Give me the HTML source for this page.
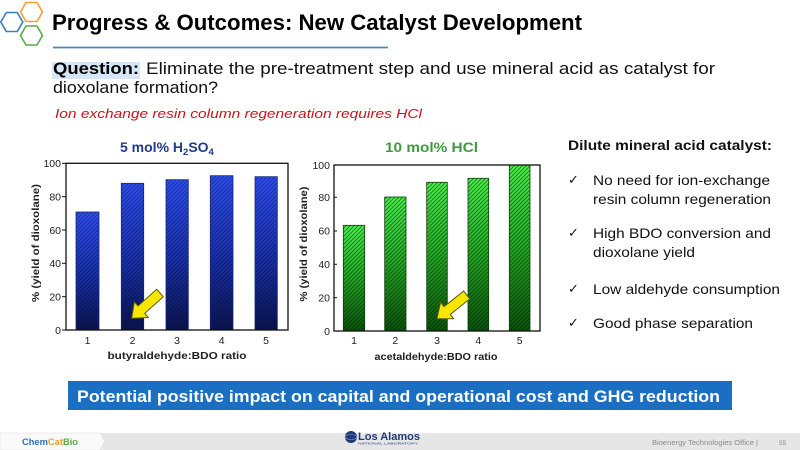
<!DOCTYPE html>
<html><head><meta charset="utf-8"><style>
html,body{margin:0;padding:0;background:#fff;width:800px;height:450px;overflow:hidden}
svg{display:block}
text{font-family:"Liberation Sans",Arial,sans-serif}
</style></head><body>
<svg width="800" height="450" viewBox="0 0 800 450" xmlns="http://www.w3.org/2000/svg">
<defs>
<linearGradient id="gb" x1="0" y1="0" x2="0" y2="1">
<stop offset="0" stop-color="#2e50ec"/><stop offset="0.5" stop-color="#1a33b0"/><stop offset="1" stop-color="#0a1550"/>
</linearGradient>
<linearGradient id="gg" x1="0" y1="0" x2="0" y2="1">
<stop offset="0" stop-color="#4ef04e"/><stop offset="0.5" stop-color="#26a826"/><stop offset="1" stop-color="#0a520c"/>
</linearGradient>
<pattern id="hb" width="4" height="4" patternUnits="userSpaceOnUse">
<path d="M-1,1 l2,-2 M0,4 l4,-4 M3,5 l2,-2" stroke="rgba(0,0,30,0.35)" stroke-width="1"/>
</pattern>
<pattern id="hg" width="4" height="4" patternUnits="userSpaceOnUse">
<path d="M-1,1 l2,-2 M0,4 l4,-4 M3,5 l2,-2" stroke="rgba(0,30,0,0.5)" stroke-width="1"/>
</pattern>
</defs>

<!-- logo hexagons -->
<g fill="none" stroke-width="1.6">
<polygon points="20.5,12 26,2.5 37,2.5 42.5,12 37,21.5 26,21.5" stroke="#f0a030"/>
<polygon points="0.8,22 6.3,12.5 17.3,12.5 22.8,22 17.3,31.5 6.3,31.5" stroke="#3a7cc0"/>
<polygon points="20.5,35.5 26,26 37,26 42.5,35.5 37,45 26,45" stroke="#5aaa48"/>
</g>

<!-- title -->
<text x="52" y="30" font-size="22" font-weight="bold" fill="#000" textLength="530" lengthAdjust="spacingAndGlyphs">Progress &amp; Outcomes: New Catalyst Development</text>
<line x1="53" y1="47.5" x2="388" y2="47.5" stroke="#4a88c0" stroke-width="1.8"/>

<!-- question -->
<rect x="52" y="62" width="88" height="17" fill="#d4e6f7"/>
<text x="53" y="74" font-size="17" font-weight="bold" fill="#000" textLength="86" lengthAdjust="spacingAndGlyphs">Question:</text>
<text x="146" y="74" font-size="17" fill="#111" textLength="569" lengthAdjust="spacingAndGlyphs">Eliminate the pre-treatment step and use mineral acid as catalyst for</text>
<text x="53" y="93" font-size="17" fill="#111" textLength="165" lengthAdjust="spacingAndGlyphs">dioxolane formation?</text>
<text x="55" y="118" font-size="13" font-style="italic" fill="#c8141e" textLength="367" lengthAdjust="spacingAndGlyphs">Ion exchange resin column regeneration requires HCl</text>

<!-- chart titles -->
<text x="120" y="152" font-size="14" font-weight="bold" fill="#1f3c88">5 mol% H<tspan font-size="9.5" dy="3">2</tspan><tspan dy="-3">SO</tspan><tspan font-size="9.5" dy="3">4</tspan></text>
<text x="385" y="152" font-size="14" font-weight="bold" fill="#3f9a3f" textLength="93" lengthAdjust="spacingAndGlyphs">10 mol% HCl</text>

<!-- LEFT CHART -->
<g>
<rect x="76" y="212" width="23" height="118" fill="url(#gb)"/>
<rect x="121.3" y="183.3" width="22.4" height="146.7" fill="url(#gb)"/>
<rect x="166" y="179.7" width="22.3" height="150.3" fill="url(#gb)"/>
<rect x="210.3" y="175.7" width="22.7" height="154.3" fill="url(#gb)"/>
<rect x="255" y="176.7" width="22.3" height="153.3" fill="url(#gb)"/>
<g fill="url(#hb)" stroke="#14257a" stroke-width="0.8">
<rect x="76" y="212" width="23" height="118"/>
<rect x="121.3" y="183.3" width="22.4" height="146.7"/>
<rect x="166" y="179.7" width="22.3" height="150.3"/>
<rect x="210.3" y="175.7" width="22.7" height="154.3"/>
<rect x="255" y="176.7" width="22.3" height="153.3"/>
</g>
<rect x="66" y="163.3" width="222" height="166.7" fill="none" stroke="#111" stroke-width="1.3"/>
<g stroke="#111" stroke-width="1">
<line x1="62" y1="163.3" x2="66" y2="163.3"/><line x1="62" y1="196.7" x2="66" y2="196.7"/>
<line x1="62" y1="230" x2="66" y2="230"/><line x1="62" y1="263.3" x2="66" y2="263.3"/>
<line x1="62" y1="296.7" x2="66" y2="296.7"/><line x1="62" y1="330" x2="66" y2="330"/>
</g>
<g font-size="10.5" fill="#222" text-anchor="end">
<text x="61" y="167">100</text><text x="61" y="200.5">80</text><text x="61" y="234">60</text>
<text x="61" y="267">40</text><text x="61" y="300.5">20</text><text x="61" y="334">0</text>
</g>
<g font-size="10.5" fill="#222" text-anchor="middle">
<text x="87.5" y="344">1</text><text x="132.5" y="344">2</text><text x="177" y="344">3</text>
<text x="221.7" y="344">4</text><text x="266" y="344">5</text>
</g>
<text x="177" y="359" font-size="10.5" font-weight="bold" fill="#222" text-anchor="middle" textLength="139" lengthAdjust="spacingAndGlyphs">butyraldehyde:BDO ratio</text>
<text transform="translate(39,243) rotate(-90)" font-size="10.5" font-weight="bold" fill="#222" text-anchor="middle" textLength="118" lengthAdjust="spacingAndGlyphs">% (yield of dioxolane)</text>
<polygon transform="translate(160,293) rotate(138.2)" points="0,-5 25,-5 25,-10.5 38,0 25,10.5 25,5 0,5" fill="#f7e600" stroke="#5a5a10" stroke-width="1"/>
</g>

<!-- RIGHT CHART -->
<g>
<rect x="343.3" y="225.3" width="21.4" height="105.7" fill="url(#gg)"/>
<rect x="384.7" y="197" width="21.3" height="134" fill="url(#gg)"/>
<rect x="426.7" y="182.3" width="20.6" height="148.7" fill="url(#gg)"/>
<rect x="468" y="178.3" width="20.7" height="152.7" fill="url(#gg)"/>
<rect x="509.3" y="165" width="20.7" height="166" fill="url(#gg)"/>
<g fill="url(#hg)" stroke="#0c3a0c" stroke-width="0.8">
<rect x="343.3" y="225.3" width="21.4" height="105.7"/>
<rect x="384.7" y="197" width="21.3" height="134"/>
<rect x="426.7" y="182.3" width="20.6" height="148.7"/>
<rect x="468" y="178.3" width="20.7" height="152.7"/>
<rect x="509.3" y="165" width="20.7" height="166"/>
</g>
<rect x="334" y="165" width="206" height="166" fill="none" stroke="#111" stroke-width="1.3"/>
<g stroke="#111" stroke-width="1">
<line x1="334" y1="197.3" x2="337" y2="197.3"/><line x1="334" y1="231" x2="337" y2="231"/>
<line x1="334" y1="264.3" x2="337" y2="264.3"/><line x1="334" y1="297.7" x2="337" y2="297.7"/>
</g>
<g font-size="10.5" fill="#222" text-anchor="end">
<text x="330" y="169">100</text><text x="330" y="201">80</text><text x="330" y="234.5">60</text>
<text x="330" y="268">40</text><text x="330" y="301.5">20</text><text x="330" y="335">0</text>
</g>
<g font-size="10.5" fill="#222" text-anchor="middle">
<text x="354" y="344">1</text><text x="395.3" y="344">2</text><text x="437" y="344">3</text>
<text x="478.3" y="344">4</text><text x="519.7" y="344">5</text>
</g>
<text x="436" y="360" font-size="10.5" font-weight="bold" fill="#222" text-anchor="middle" textLength="123" lengthAdjust="spacingAndGlyphs">acetaldehyde:BDO ratio</text>
<text transform="translate(307,244) rotate(-90)" font-size="10.5" font-weight="bold" fill="#222" text-anchor="middle" textLength="115" lengthAdjust="spacingAndGlyphs">% (yield of dioxolane)</text>
<polygon transform="translate(466.7,295) rotate(141.6)" points="0,-5 25,-5 25,-10.5 38,0 25,10.5 25,5 0,5" fill="#f7e600" stroke="#5a5a10" stroke-width="1"/>
</g>

<!-- right text -->
<text x="568" y="150" font-size="14" font-weight="bold" fill="#111" textLength="204" lengthAdjust="spacingAndGlyphs">Dilute mineral acid catalyst:</text>
<g font-size="13" fill="#111">
<text x="568" y="184">✓</text><text x="568" y="237">✓</text><text x="568" y="293">✓</text><text x="568" y="327">✓</text>
</g>
<g font-size="14" fill="#111">
<text x="593" y="185" textLength="177" lengthAdjust="spacingAndGlyphs">No need for ion-exchange</text>
<text x="593" y="204" textLength="178" lengthAdjust="spacingAndGlyphs">resin column regeneration</text>
<text x="593" y="238" textLength="178" lengthAdjust="spacingAndGlyphs">High BDO conversion and</text>
<text x="593" y="257" textLength="102" lengthAdjust="spacingAndGlyphs">dioxolane yield</text>
<text x="593" y="294" textLength="187" lengthAdjust="spacingAndGlyphs">Low aldehyde consumption</text>
<text x="593" y="328" textLength="160" lengthAdjust="spacingAndGlyphs">Good phase separation</text>
</g>

<!-- banner -->
<rect x="68" y="381" width="664" height="29" fill="#1b6fc2"/>
<text x="77" y="402" font-size="17" font-weight="bold" fill="#fff" textLength="643" lengthAdjust="spacingAndGlyphs">Potential positive impact on capital and operational cost and GHG reduction</text>

<!-- footer -->
<rect x="0" y="433" width="800" height="17" fill="#e6e6e6"/>
<polygon points="0,433 100,433 105,441.5 100,450 0,450" fill="#fafafa" stroke="#d8d8d8" stroke-width="0.6"/>
<text x="22" y="445" font-size="9.5" font-weight="bold" textLength="56" lengthAdjust="spacingAndGlyphs"><tspan fill="#2a6eb5">Chem</tspan><tspan fill="#f0a030">Cat</tspan><tspan fill="#5aaa48">Bio</tspan></text>
<circle cx="351" cy="437" r="6" fill="#1e3a78"/>
<ellipse cx="351" cy="437" rx="6" ry="2.5" fill="none" stroke="#8aa4d8" stroke-width="0.6"/>
<text x="358" y="440" font-size="11" font-weight="bold" fill="#1e3a78" textLength="62" lengthAdjust="spacingAndGlyphs">Los Alamos</text>
<text x="358" y="444.5" font-size="3" fill="#1e3a78" textLength="60" lengthAdjust="spacingAndGlyphs">NATIONAL LABORATORY</text>
<text x="652" y="445" font-size="7.5" fill="#8a8a8a" textLength="106" lengthAdjust="spacingAndGlyphs">Bioenergy Technologies Office |</text>
<text x="779" y="445" font-size="6.5" fill="#8a8a8a">55</text>
</svg>
</body></html>
